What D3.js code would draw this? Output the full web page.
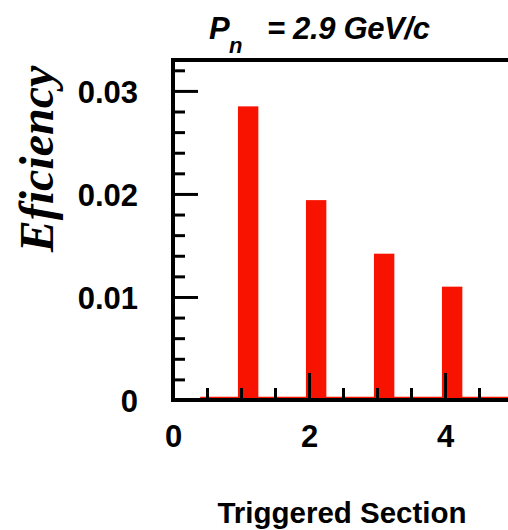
<!DOCTYPE html>
<html>
<head>
<meta charset="utf-8">
<script src="https://cdn.jsdelivr.net/npm/d3@7"></script>
<style>
  html, body { margin: 0; padding: 0; background: #fff; }
  svg { display: block; }
</style>
</head>
<body>
<svg id="chart" width="508" height="530"></svg>
<script>
// ---- data ----
const sections = [1, 2, 3, 4];
const efficiency = [0.0285, 0.0194, 0.0142, 0.0110];
const xMajorTicks = [0, 2, 4];
const xMinorTicks = [0.5, 1, 1.5, 2.5, 3, 3.5, 4.5];
const yMajorTicks = [0, 0.01, 0.02, 0.03];
const yMinorTicks = [0.002, 0.004, 0.006, 0.008, 0.012, 0.014, 0.016, 0.018,
                     0.022, 0.024, 0.026, 0.028, 0.032];
const yTickLabels = ["0", "0.01", "0.02", "0.03"];
const titleMain = "P";
const titleSub = "n";
const titleRest = "= 2.9 GeV/c";
const xTitle = "Triggered Section";
const yTitle = "Eficiency";

// ---- layout ----
const svg = d3.select("#chart");
const plotLeft = 173, plotTop = 60, plotBottom = 400;
const x = d3.scaleLinear().domain([0, 5]).range([plotLeft, plotLeft + 340]);
const y = d3.scaleLinear().domain([0, 0.033]).range([plotBottom, plotTop]);
const sans = "'Liberation Sans', Arial, Helvetica, sans-serif";
const serif = "'Liberation Serif', 'Times New Roman', serif";
const red = "#f81200";

// bars
const barOffset = -0.045, barWidth = 0.3;
svg.append("g").selectAll("rect")
  .data(sections.map((s, i) => ({ s, v: efficiency[i] })))
  .join("rect")
  .attr("x", d => x(d.s + barOffset))
  .attr("width", d => x(d.s + barOffset + barWidth) - x(d.s + barOffset))
  .attr("y", d => y(d.v))
  .attr("height", d => y(0) - y(d.v))
  .attr("fill", red);

// histogram zero line
svg.append("line")
  .attr("x1", x(0.4)).attr("x2", x(5))
  .attr("y1", y(0) - 2.5).attr("y2", y(0) - 2.5)
  .attr("stroke", red).attr("stroke-width", 1.5);

// axes
function styleAxis(g) {
  g.select(".domain").remove();
  g.selectAll(".tick line").attr("stroke", "#000").attr("stroke-width", 3);
  g.selectAll(".tick text")
    .attr("fill", "#000")
    .attr("font-family", sans)
    .attr("font-weight", "bold")
    .attr("font-size", 31);
}

svg.append("g")
  .attr("transform", `translate(${plotLeft},0)`)
  .call(d3.axisLeft(y).tickValues(yMinorTicks).tickSize(-12).tickFormat(""))
  .call(styleAxis);
svg.append("g")
  .attr("transform", `translate(${plotLeft},0)`)
  .call(d3.axisLeft(y).tickValues(yMajorTicks).tickSize(-25).tickPadding(35)
        .tickFormat((d, i) => yTickLabels[i]))
  .call(styleAxis)
  .call(g => g.selectAll(".tick text").attr("dy", "0.36em"));

svg.append("g")
  .attr("transform", `translate(0,${plotBottom})`)
  .call(d3.axisBottom(x).tickValues(xMinorTicks).tickSize(-12).tickFormat(""))
  .call(styleAxis);
svg.append("g")
  .attr("transform", `translate(0,${plotBottom})`)
  .call(d3.axisBottom(x).tickValues(xMajorTicks).tickSize(-27).tickPadding(25)
        .tickFormat(d3.format("d")))
  .call(styleAxis);

// frame
svg.append("rect")
  .attr("x", plotLeft).attr("y", plotTop)
  .attr("width", x(5) - plotLeft).attr("height", plotBottom - plotTop)
  .attr("fill", "none").attr("stroke", "#000").attr("stroke-width", 4);

// title
const tg = svg.append("g")
  .attr("font-family", sans).attr("font-weight", "bold").attr("font-style", "italic")
  .attr("fill", "#000");
tg.append("text").attr("x", 209).attr("y", 39).attr("font-size", 31).text(titleMain);
tg.append("text").attr("x", 229).attr("y", 53).attr("font-size", 22).text(titleSub);
tg.append("text").attr("x", 267).attr("y", 39).attr("font-size", 31)
  .attr("textLength", 163).attr("lengthAdjust", "spacing").text(titleRest);

// x title
svg.append("text")
  .attr("x", 342).attr("y", 523)
  .attr("text-anchor", "middle")
  .attr("font-family", sans).attr("font-weight", "bold").attr("font-size", 29.5)
  .text(xTitle);

// y title
svg.append("text")
  .attr("transform", "translate(53,159) rotate(-90)")
  .attr("text-anchor", "middle")
  .attr("font-family", serif).attr("font-weight", "bold").attr("font-style", "italic")
  .attr("font-size", 48)
  .text(yTitle);
</script>
</body>
</html>
